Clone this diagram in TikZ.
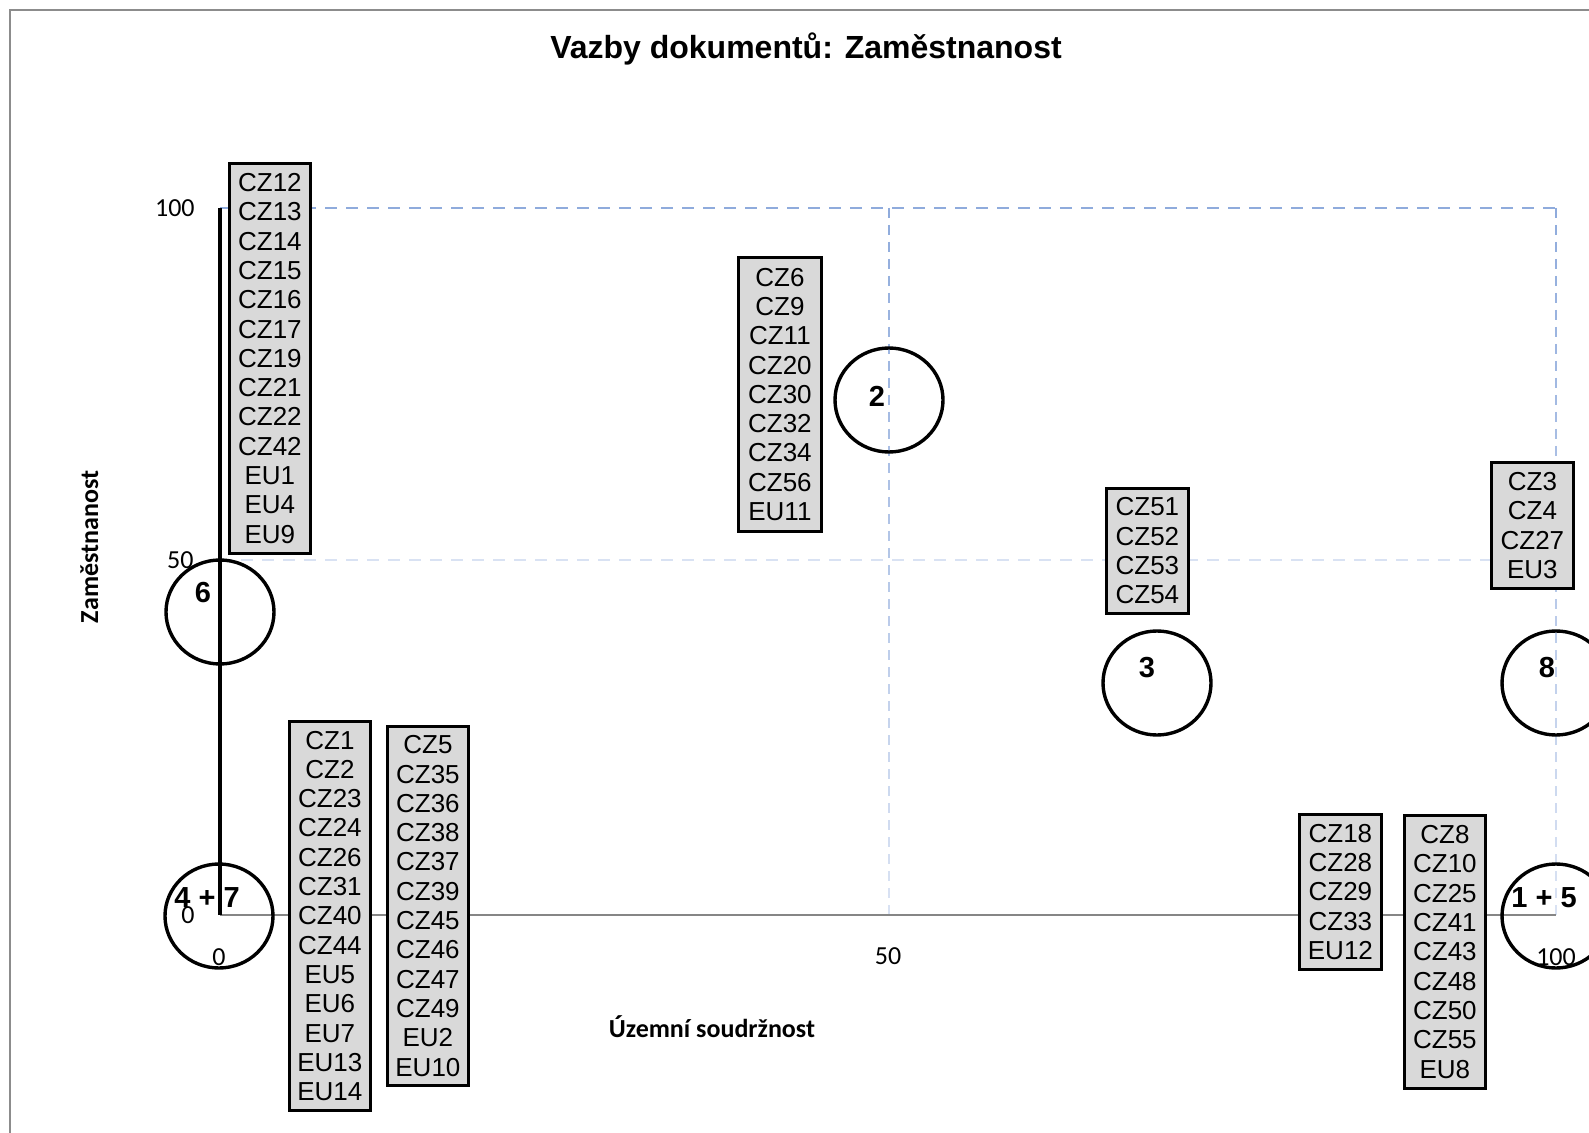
\documentclass[tikz,border=0pt]{standalone}
\usepackage{fontspec}
\setmainfont{Liberation Sans}
\newfontfamily\calfont{Carlito}
\usetikzlibrary{shapes.geometric}
\definecolor{gridtop}{HTML}{8FABDC}
\definecolor{gridbot}{HTML}{D9E2F3}
\definecolor{gridmid}{HTML}{D9E2F3}
\definecolor{boxfill}{HTML}{D9D9D9}
\definecolor{axgray}{HTML}{868686}
\definecolor{framegray}{HTML}{8C8C8C}
\begin{document}
\begin{tikzpicture}[x=0.5pt,y=-0.5pt,
  docbox/.style={draw=black, line width=1.4pt, fill=boxfill, anchor=north west, inner sep=0pt, align=center, font=\fontsize{13}{14.65}\selectfont},
  bubble/.style={draw=black, line width=1.7pt, ellipse, minimum width=54pt, minimum height=52pt, inner sep=0pt},
  blabel/.style={font=\fontsize{14.5}{17}\selectfont\bfseries, inner sep=0pt},
  ticklab/.style={font=\calfont\fontsize{13}{15}\selectfont, inner sep=0pt},
  axtitle/.style={font=\calfont\bfseries\fontsize{13}{15}\selectfont, inner sep=0pt},
  griddash/.style={line width=1.2pt, dash pattern=on 6pt off 4.5pt}]
\useasboundingbox (0,0) rectangle (1589,1133);
\clip (0,0) rectangle (1589,1133);
\fill[white] (0,0) rectangle (1589,1133);
% frame
\coordinate (fbl) at (10,1150);
\coordinate (ftl) at (10,10);
\coordinate (ftr) at (1600,10);
\draw[framegray, line width=1pt] (fbl) -- (ftl) -- (ftr);
% title
\node[font=\fontsize{16}{19}\selectfont\bfseries, anchor=base, inner sep=0pt] (title) at (806,59) {Vazby dokumentů: Zaměstnanost};
% axis coordinates
\coordinate (O) at (220,915);
\coordinate (Y100) at (220,208);
\coordinate (Y50) at (220,560);
\coordinate (X100) at (1556,915);
\coordinate (T100) at (1556,208);
\coordinate (M100) at (1556,560);
% grid lines
\draw[griddash, gridtop] (Y100) -- (T100);
\draw[griddash, gridmid] (Y50) -- (M100);
\foreach \xx in {889,1556}{
  \foreach \k in {0,...,41}{
    \pgfmathsetmacro\ya{208+17*\k}
    \pgfmathsetmacro\yb{min(\ya+10,915)}
    \pgfmathtruncatemacro\pp{100-100*\k/41}
    \draw[line width=1.2pt, color=gridtop!\pp!gridbot] (\xx,\ya) -- (\xx,\yb);
  }
}
% axes
\draw[axgray, line width=1pt] (O) -- (X100);
\draw[black, line width=1.6pt] (O) -- (Y100);
% tick labels
\node[ticklab, anchor=east] (ty100) at (195,208) {100};
\node[ticklab, anchor=east] (ty50) at (194,560) {50};
\node[ticklab, anchor=east] (ty0) at (195,915) {0};
\node[ticklab] (tx0) at (219,957) {0};
\node[ticklab] (tx50) at (888,956) {50};
\node[ticklab] (tx100) at (1556,957) {100};
% axis titles
\node[axtitle, anchor=base] (xtitle) at (712,1037) {Územní soudržnost};
\node[axtitle, anchor=base, rotate=90] (ytitle) at (98,547) {Zaměstnanost};
% bubbles
\node[bubble] (c6) at (220,612) {};
\node[bubble] (c47) at (219,916) {};
\node[bubble] (c2) at (889,400) {};
\node[bubble] (c3) at (1157,683) {};
\node[bubble] (c8) at (1556,683) {};
\node[bubble] (c15) at (1556,916) {};
\node[blabel] (l6) at (203,593) {6};
\node[blabel] (l47) at (207,898) {4 + 7};
\node[blabel] (l2) at (877,396) {2};
\node[blabel] (l3) at (1147,668) {3};
\node[blabel] (l8) at (1547,668) {8};
\node[blabel] (l15) at (1544,898) {1 + 5};
% document boxes
\node[docbox, minimum width=40.5pt, minimum height=195pt] (bA) at (228,162) {CZ12\\CZ13\\CZ14\\CZ15\\CZ16\\CZ17\\CZ19\\CZ21\\CZ22\\CZ42\\EU1\\EU4\\EU9};
\node[docbox, minimum width=41.5pt, minimum height=137pt] (bB) at (737,256) {CZ6\\CZ9\\CZ11\\CZ20\\CZ30\\CZ32\\CZ34\\CZ56\\EU11};
\node[docbox, minimum width=41pt, minimum height=62.5pt] (bC) at (1105,487) {CZ51\\CZ52\\CZ53\\CZ54};
\node[docbox, minimum width=41pt, minimum height=63pt] (bD) at (1490,461) {CZ3\\CZ4\\CZ27\\EU3};
\node[docbox, minimum width=40.5pt, minimum height=194.5pt] (bE) at (288,720) {CZ1\\CZ2\\CZ23\\CZ24\\CZ26\\CZ31\\CZ40\\CZ44\\EU5\\EU6\\EU7\\EU13\\EU14};
\node[docbox, minimum width=40.5pt, minimum height=179.5pt] (bF) at (386,725) {CZ5\\CZ35\\CZ36\\CZ38\\CZ37\\CZ39\\CZ45\\CZ46\\CZ47\\CZ49\\EU2\\EU10};
\node[docbox, minimum width=41pt, minimum height=77.5pt] (bG) at (1298,813) {CZ18\\CZ28\\CZ29\\CZ33\\EU12};
\node[docbox, minimum width=40.5pt, minimum height=136.5pt] (bH) at (1403,814) {CZ8\\CZ10\\CZ25\\CZ41\\CZ43\\CZ48\\CZ50\\CZ55\\EU8};
\end{tikzpicture}
\end{document}
